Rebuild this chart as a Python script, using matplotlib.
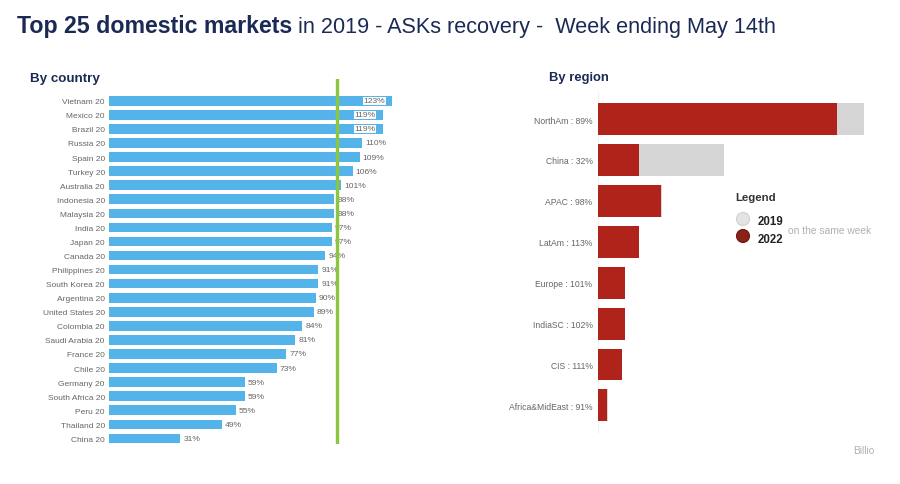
import matplotlib
matplotlib.use("Agg")
import matplotlib.pyplot as plt
from matplotlib.patches import Circle

# ---------------- data ----------------
countries = ["Vietnam", "Mexico", "Brazil", "Russia", "Spain", "Turkey", "Australia",
             "Indonesia", "Malaysia", "India", "Japan", "Canada", "Philippines",
             "South Korea", "Argentina", "United States", "Colombia", "Saudi Arabia",
             "France", "Chile", "Germany", "South Africa", "Peru", "Thailand", "China"]
country_pct = [123, 119, 119, 110, 109, 106, 101, 98, 98, 97, 97, 94, 91, 91, 90, 89,
               84, 81, 77, 73, 59, 59, 55, 49, 31]
country_suffix = "20"

regions = ["NorthAm", "China", "APAC", "LatAm", "Europe", "IndiaSC", "CIS", "Africa&MidEast"]
region_pct = [89, 32, 98, 113, 101, 102, 111, 91]
region_2022 = [239, 41, 63, 41, 27, 27, 24, 9]     # relative ASKs, 2022
region_2019 = [266, 126, 64, 36, 27, 26, 22, 10]   # relative ASKs, 2019 same week
reference_pct = 99

title_bold = "Top 25 domestic markets"
title_rest = " in 2019 - ASKs recovery -  Week ending May 14th"

# ---------------- style ----------------
W, H = 900, 485
NAVY = "#1b2a55"
BLUE = "#54b4ea"
GREEN = "#8cc63f"
RED = "#b0231a"
DARKRED = "#8a2218"
LGRAY = "#d5d5d5"
TXT = "#666666"
plt.rcParams["font.family"] = ["Liberation Sans", "DejaVu Sans"]

fig = plt.figure(figsize=(W / 100, H / 100), dpi=100)
fig.patch.set_facecolor("white")


def fx(px):
    return px / W


def fy(py):
    return 1 - py / H


def ax_rect(x0, y0, x1, y1):
    return [fx(x0), fy(y1), fx(x1) - fx(x0), fy(y0) - fy(y1)]


# ---------------- title ----------------
t1 = fig.text(fx(17), fy(33), title_bold, fontsize=16.7, fontweight="bold",
              color=NAVY, va="baseline", ha="left")
fig.canvas.draw()
bb = t1.get_window_extent()
fig.text(bb.x1 / W, fy(33), title_rest, fontsize=15.6, color=NAVY,
         va="baseline", ha="left")

# ---------------- left: by country ----------------
fig.text(fx(30), fy(79), "By country", fontsize=9.6, fontweight="bold",
         color=NAVY, va="center", ha="left")

axL = fig.add_axes(ax_rect(109, 80, 408, 445))
ypos = list(range(len(countries)))
axL.barh(ypos, country_pct, height=0.68, color=BLUE, zorder=2)
for y, v in zip(ypos, country_pct):
    xl = v + 1.3 if v < 115 else v - 12.3
    axL.text(xl, y, f"{v}%", fontsize=6.1, color=TXT, va="center", ha="left",
             zorder=3, bbox=dict(boxstyle="square,pad=0.05", fc="white", ec="none"))
axL.axvline(reference_pct, color=GREEN, lw=2.4, zorder=4)
axL.set_xlim(0, 130)
axL.set_ylim(24.4, -1.55)
axL.set_yticks(ypos)
axL.set_yticklabels([f"{c} {country_suffix}" for c in countries], fontsize=6, color=TXT)
axL.tick_params(axis="y", length=0, pad=3)
axL.set_xticks([])
for s in axL.spines.values():
    s.set_visible(False)

# ---------------- right: by region ----------------
fig.text(fx(549), fy(78), "By region", fontsize=9.4, fontweight="bold",
         color=NAVY, va="center", ha="left")

axR = fig.add_axes(ax_rect(598, 93, 880, 433))
rpos = list(range(len(regions)))
axR.barh(rpos, region_2019, height=0.78, color=LGRAY, zorder=2)
axR.barh(rpos, region_2022, height=0.78, color=RED, zorder=3)
axR.set_xlim(0, 282)
axR.set_ylim(7.65, -0.66)
axR.set_yticks(rpos)
axR.set_yticklabels([f"{r} : {p}%" for r, p in zip(regions, region_pct)],
                    fontsize=6.2, color=TXT)
axR.tick_params(axis="y", length=0, pad=4)
axR.set_xticks([])
for k, s in axR.spines.items():
    s.set_visible(k == "left")
axR.spines["left"].set_color("#f0f0f0")
axR.spines["left"].set_linewidth(0.8)

# legend
fig.text(fx(735), fy(198), "Legend", fontsize=8.2, fontweight="bold", color="#333333",
         va="center", ha="left")
axLeg = fig.add_axes(ax_rect(730, 210, 760, 250))
axLeg.set_xlim(730, 760)
axLeg.set_ylim(250, 210)
axLeg.set_aspect("equal")
axLeg.axis("off")
axLeg.add_patch(Circle((743, 220), 6.5, fc="#e4e4e4", ec="#d0d0d0", lw=0.8))
axLeg.add_patch(Circle((743, 237), 6.5, fc=DARKRED, ec="#6e1a12", lw=0.8))
fig.text(fx(758), fy(222), "2019", fontsize=8.3, fontweight="bold", color="#222222",
         va="center", ha="left")
fig.text(fx(758), fy(240), "2022", fontsize=8.3, fontweight="bold", color="#222222",
         va="center", ha="left")
fig.text(fx(788), fy(231), "on the same week", fontsize=7.4, color="#b0b0b0",
         va="center", ha="left")

fig.text(fx(853), fy(451), "Billio", fontsize=7.2, color="#b0b0b0",
         va="center", ha="left")

fig.savefig("out.png", dpi=100, facecolor="white")
